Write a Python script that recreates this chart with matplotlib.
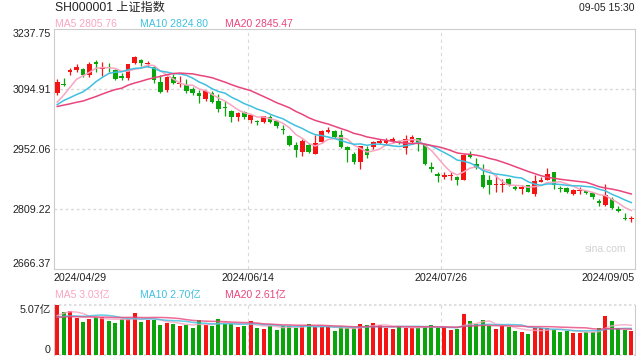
import numpy as np
import pandas as pd
import matplotlib
matplotlib.use('Agg')
import matplotlib.pyplot as plt

plt.rcParams['font.family'] = ['Liberation Sans', 'Noto Sans CJK SC', 'DejaVu Sans']

# daily candles, 2024/04/29 .. 2024/09/05
opens = [3087, 3108, 3135, 3142, 3144, 3128, 3161, 3143, 3148, 3140,
         3127, 3121, 3157, 3164, 3154, 3149, 3113, 3093, 3123, 3107,
         3105, 3095, 3085, 3071, 3087, 3068, 3053, 3043, 3028, 3040,
         3023, 3019, 3017, 3029, 3019, 3000, 2983, 2963, 2945, 2963,
         2942, 2969, 2994, 2996, 2987, 2957, 2942, 2921, 2952, 2957,
         2968, 2966, 2972, 2973, 2955, 2969, 2979, 2963, 2911, 2894,
         2887, 2888, 2887, 2880, 2942, 2916, 2891, 2879, 2866, 2866,
         2881, 2862, 2857, 2866, 2846, 2875, 2880, 2897, 2861, 2859,
         2846, 2852, 2853, 2848, 2830, 2820, 2834, 2811, 2788, 2786]
highs = [3119, 3121, 3146, 3154, 3146, 3160, 3165, 3160, 3158, 3143,
         3134, 3155, 3174.27, 3167, 3163, 3151, 3128, 3126, 3131, 3127,
         3120, 3101, 3093, 3093, 3090, 3083, 3066, 3045, 3040, 3043,
         3033, 3022, 3032, 3033, 3021, 3011, 2986, 2970, 2977, 2966,
         2987, 2997, 3005, 2999, 2997, 2960, 2945, 2961, 2961, 2973,
         2977, 2979, 2981, 2975, 2985, 2985, 2979, 2965, 2921, 2898,
         2899, 2899, 2888, 2940, 2948, 2931, 2918, 2890, 2890, 2882,
         2883, 2866, 2868, 2867, 2890, 2887, 2907, 2898, 2864, 2862,
         2858, 2862, 2856, 2850, 2834, 2870, 2838, 2818, 2801, 2794]
lows = [3081, 3103, 3130, 3137, 3125, 3125, 3137, 3127, 3137, 3117,
        3116, 3117, 3155, 3150, 3149, 3111, 3085, 3088, 3107, 3100,
        3085, 3081, 3063, 3067, 3062, 3041, 3032, 3016, 3020, 3024,
        3014, 3010, 3014, 3015, 3003, 2989, 2961, 2934, 2936, 2943,
        2941, 2966, 2990, 2978, 2955, 2922, 2917, 2906, 2931, 2952,
        2964, 2962, 2966, 2964, 2941, 2965, 2949, 2915, 2898, 2874,
        2882, 2880, 2867, 2878, 2931, 2904, 2860, 2846, 2850, 2850,
        2864, 2855, 2846, 2850, 2842, 2874, 2880, 2858, 2850, 2848,
        2844, 2846, 2846, 2833, 2818, 2818, 2810, 2803, 2783, 2779]
closes = [3113.04, 3104.82, 3140.72, 3147.74, 3128.48, 3154.32, 3154.55, 3148.02, 3145.77, 3119.90,
          3122.40, 3154.03, 3171.15, 3157.97, 3158.54, 3116.39, 3088.87, 3124.04, 3109.57, 3111.02,
          3091.68, 3086.81, 3078.49, 3091.20, 3065.40, 3048.79, 3051.28, 3028.05, 3037.47, 3028.92,
          3032.63, 3015.89, 3030.25, 3018.05, 3007.00, 2998.14, 2963.10, 2950.00, 2972.53, 2945.85,
          2967.40, 2994.73, 2997.01, 2982.38, 2957.57, 2949.93, 2922.45, 2959.37, 2939.36, 2970.39,
          2971.30, 2974.01, 2976.30, 2966.00, 2977.13, 2982.31, 2968.00, 2916.00, 2904.00, 2889.00,
          2890.90, 2891.85, 2880.00, 2938.75, 2934.00, 2908.00, 2862.00, 2867.28, 2869.90, 2869.83,
          2866.00, 2858.20, 2863.00, 2851.00, 2877.36, 2879.43, 2893.67, 2866.66, 2857.00, 2851.00,
          2854.37, 2855.52, 2849.00, 2838.00, 2824.00, 2842.21, 2812.00, 2804.00, 2785.00, 2788.32]
# closes before the window, only needed to start the moving averages
closes_before = [3041.17, 3077.38, 3074.96, 3069.30, 3047.05, 3048.54, 3027.33, 3034.25, 3019.47, 3057.38,
                 3007.07, 3071.38, 3074.22, 3065.26, 3044.60, 3021.98, 3044.82, 3052.90, 3088.64]

# volume in 亿
volumes = [5.07, 4.36, 4.46, 3.78, 3.38, 3.68, 3.82, 3.89, 3.48, 3.28,
           3.62, 3.68, 4.26, 3.38, 3.58, 3.58, 3.07, 3.28, 3.17, 2.97,
           3.07, 2.77, 3.58, 3.07, 2.97, 3.68, 3.17, 3.17, 2.84, 2.94,
           3.48, 2.77, 2.67, 2.97, 2.57, 2.91, 2.94, 2.77, 2.97, 3.14,
           2.84, 2.87, 2.81, 2.46, 2.80, 2.70, 2.70, 3.14, 3.04, 3.24,
           3.04, 2.77, 2.64, 2.91, 2.77, 2.77, 2.77, 2.87, 3.04, 2.77,
           2.81, 2.54, 2.64, 4.16, 3.45, 3.14, 3.55, 2.97, 2.64, 2.97,
           2.84, 2.43, 2.33, 2.13, 2.77, 2.70, 2.70, 2.64, 2.33, 2.47,
           2.23, 2.23, 2.33, 2.33, 2.74, 3.95, 3.45, 2.70, 2.54, 2.43]
volumes_before = [3.9, 3.7, 3.8, 4.0, 3.6, 3.9, 4.1, 3.7, 3.8, 3.6,
                  3.5, 4.0, 3.9, 3.7, 3.3, 3.2, 3.6, 4.0, 4.1]

price_ticks = [2666.37, 2809.22, 2952.06, 3094.91, 3237.75]
date_ticks = [-0.5, 29.5, 59.5, 89.5]
date_labels = ['2024/04/29', '2024/06/14', '2024/07/26', '2024/09/05']
vol_max = 5.07

title = 'SH000001 上证指数'
stamp = '09-05 15:30'
ma_price_text = ['MA5 2805.76', 'MA10 2824.80', 'MA20 2845.47']
ma_vol_text = ['MA5 3.03亿', 'MA10 2.70亿', 'MA20 2.61亿']

# colours
red = '#f51414'
green = '#0aa50a'
ma_colors = ['#f8a5c2', '#3fc0e0', '#e9457d']
grid_c = '#d9d9d9'
frame_c = '#cccccc'
txt_c = '#222222'

o = np.array(opens, float)
h = np.array(highs, float)
l = np.array(lows, float)
c = np.array(closes, float)
v = np.array(volumes, float)
n = len(c)
x = np.arange(n)
col = np.where(c >= o, red, green)

nb = len(closes_before)
full_c = pd.Series(closes_before + closes)
full_v = pd.Series(volumes_before + volumes)
ma_c = [full_c.rolling(w).mean().to_numpy()[nb:] for w in (5, 10, 20)]
ma_v = [full_v.rolling(w).mean().to_numpy()[nb:] for w in (5, 10, 20)]

W, H = 640, 360
fig = plt.figure(figsize=(6.4, 3.6), dpi=100)

def fx(px):
    return px / W

def fy(py):
    return 1 - py / H

# price panel
ax = fig.add_axes([fx(54), fy(269.3), fx(634.5) - fx(54), fy(29.3) - fy(269.3)])
ax.set_xlim(-0.5, n - 0.5)
ax.set_ylim(price_ticks[0], price_ticks[-1])
for s in ax.spines.values():
    s.set_color(frame_c)
    s.set_linewidth(0.8)
for p in price_ticks[1:-1]:
    ax.axhline(p, color=grid_c, lw=1.0, ls=(0, (2, 2)), zorder=0)
for d in date_ticks[1:-1]:
    ax.axvline(d, color=grid_c, lw=0.8, ls=(0, (3, 3)), zorder=0)

ax.vlines(x, l, h, colors=col, lw=0.9, zorder=2)
ax.bar(x, np.maximum(np.abs(c - o), 1.3), 0.72, bottom=np.minimum(o, c), color=col, lw=0, zorder=3)
for m, mc in zip(ma_c, ma_colors):
    ax.plot(x, m, color=mc, lw=1.1, zorder=4)

ax.set_yticks(price_ticks)
ax.set_yticklabels([f'{p:.2f}' for p in price_ticks])
ax.set_xticks(date_ticks)
ax.set_xticklabels(date_labels)
ax.tick_params(length=0, labelsize=7.7, labelcolor=txt_c)
ax.tick_params(axis='y', pad=2.2)
ax.tick_params(axis='x', pad=3.0)
yl = ax.get_yticklabels()
yl[0].set_va('bottom')
yl[-1].set_va('top')
xl = ax.get_xticklabels()
xl[0].set_ha('left')
xl[-1].set_ha('right')

ax.text(0.985, 0.085, 'sina.com', transform=ax.transAxes, ha='right', va='center',
        fontsize=7.5, color='#d2d2d2')

# volume panel
ax2 = fig.add_axes([fx(54), fy(355), fx(634.5) - fx(54), fy(305) - fy(355)])
ax2.set_xlim(-0.5, n - 0.5)
ax2.set_ylim(0, vol_max)
ax2.spines['top'].set_visible(False)
ax2.spines['bottom'].set_visible(False)
for k in ('left', 'right'):
    ax2.spines[k].set_color(frame_c)
    ax2.spines[k].set_linewidth(0.8)
ax2.axhline(vol_max, color=grid_c, lw=1.2, ls=(0, (1.5, 1.5)), zorder=0, clip_on=False)
ax2.axhline(0, color=grid_c, lw=1.2, ls=(0, (1.5, 1.5)), zorder=0, clip_on=False)
for d in date_ticks[1:-1]:
    ax2.axvline(d, color=grid_c, lw=0.8, ls=(0, (3, 3)), zorder=0)
ax2.bar(x, v, 0.62, color=col, lw=0, zorder=2)
for m, mc in zip(ma_v, ma_colors):
    ax2.plot(x, m, color=mc, lw=1.1, alpha=0.8, zorder=3)
ax2.set_xticks([])
ax2.set_yticks([0, vol_max])
ax2.set_yticklabels(['0', f'{vol_max:.2f}亿'])
ax2.tick_params(length=0, labelsize=7.7, labelcolor=txt_c, pad=2.2)
vl = ax2.get_yticklabels()
vl[0].set_va('bottom')
vl[-1].set_va('top')

# header texts
fig.text(fx(55), fy(8), title, fontsize=8.7, color=txt_c, ha='left', va='center')
fig.text(fx(634.5), fy(8), stamp, fontsize=7.5, color=txt_c, ha='right', va='center')
for t, mc, px in zip(ma_price_text, ma_colors, (55, 140, 225)):
    fig.text(fx(px), fy(24), t, fontsize=7.5, color=mc, ha='left', va='center')
for t, mc, px in zip(ma_vol_text, ma_colors, (55, 140, 225)):
    fig.text(fx(px), fy(295), t, fontsize=7.5, color=mc, ha='left', va='center')

fig.savefig('out.png', dpi=100)
